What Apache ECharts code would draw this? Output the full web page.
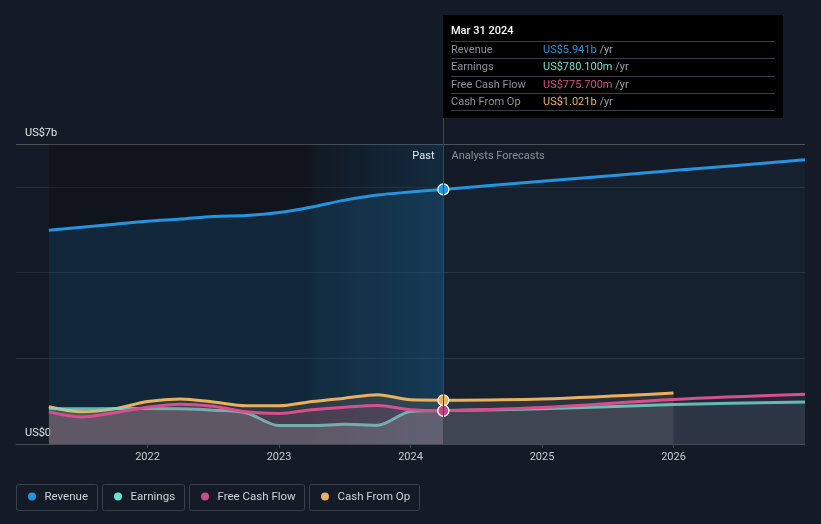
<!DOCTYPE html>
<html><head><meta charset="utf-8">
<script src="https://cdn.jsdelivr.net/npm/echarts@6/dist/echarts.min.js"></script>
<style>html,body{margin:0;padding:0;background:#151b26;}#c{width:821px;height:524px;}</style>
</head><body><div id="c"></div>
<script>
// ---- data (US$ billions) ----
const pastX = [2021.25, 2021.5, 2021.75, 2022.0, 2022.25, 2022.5, 2022.75, 2023.0, 2023.25, 2023.5, 2023.75, 2024.0, 2024.25];
const revenuePast  = [4.99, 5.06, 5.13, 5.20, 5.25, 5.31, 5.33, 5.40, 5.53, 5.69, 5.81, 5.88, 5.941];
const earningsPast = [0.83, 0.82, 0.83, 0.83, 0.82, 0.79, 0.73, 0.43, 0.43, 0.46, 0.44, 0.76, 0.780];
const fcfPast      = [0.75, 0.63, 0.73, 0.86, 0.93, 0.88, 0.75, 0.71, 0.80, 0.86, 0.90, 0.80, 0.776];
const cfoPast      = [0.87, 0.75, 0.82, 0.99, 1.05, 0.98, 0.89, 0.89, 0.99, 1.07, 1.15, 1.03, 1.021];

const forecastX = [2024.25, 2025.0, 2026.0, 2027.0];
const revenueForecast  = [5.941, 6.13, 6.38, 6.63];
const earningsForecast = [0.780, 0.82, 0.92, 0.98];
const fcfForecast      = [0.776, 0.85, 1.04, 1.16];
const cfoForecastX     = [2024.25, 2025.0, 2026.0];
const cfoForecast      = [1.021, 1.05, 1.19];

const yearTicks = [2022, 2023, 2024, 2025, 2026];
const yLabelValues = [0, 7];
const yLabelText = ['US$0', 'US$7b'];

const seriesNames = ['Revenue', 'Earnings', 'Free Cash Flow', 'Cash From Op'];
const tooltipTitle = 'Mar 31 2024';
const tooltipValues = ['US$5.941b', 'US$780.100m', 'US$775.700m', 'US$1.021b'];

// ---- style ----
const FONT = 'Roboto, "Noto Sans", sans-serif';
const C = { rev: '#2394df', earn: '#6fdccd', fcf: '#d6508f', cfo: '#e9b15e' };
const legendDot = ['#2394df', '#66e3d3', '#c94b8b', '#e8b062'];
const valueColors = ['#2394df', '#6ee0d0', '#d84d90', '#e9b15e'];

function pairs(xs, ys) { return xs.map((x, i) => [x, ys[i]]); }
function rgba(hex, a) {
  const n = parseInt(hex.slice(1), 16);
  return `rgba(${n >> 16},${(n >> 8) & 255},${n & 255},${a})`;
}
function lineSeries(name, xs, ys, color, width, areaFill, z, extra) {
  return Object.assign({
    name, type: 'line', data: pairs(xs, ys), smooth: 0.3, symbol: 'none',
    lineStyle: { color, width }, areaStyle: { color: areaFill, origin: 'start' },
    z, silent: true, animation: false
  }, extra || {});
}

const chart = echarts.init(document.getElementById('c'));
const lastI = pastX.length - 1;
const nowX = pastX[lastI];

const option = {
  backgroundColor: '#151b26',
  animation: false,
  textStyle: { fontFamily: FONT },
  grid: { left: 16, right: 16, top: 144, bottom: 80 },
  xAxis: {
    type: 'value', min: 2021, max: 2027, interval: 1,
    axisLine: { lineStyle: { color: '#464c57', width: 1 } },
    axisTick: { show: true, length: 4, customValues: yearTicks, lineStyle: { color: '#464c57' } },
    axisLabel: { customValues: yearTicks, color: '#c9ccd2', fontSize: 11, margin: 8, fontFamily: FONT,
                 formatter: v => String(v) },
    splitLine: { show: false }
  },
  yAxis: {
    type: 'value', min: 0, max: 7, interval: 2,
    axisLine: { show: false }, axisTick: { show: false },
    splitLine: { lineStyle: { color: 'rgba(255,255,255,0.09)' } },
    axisLabel: {
      customValues: yLabelValues, inside: true, margin: 9, verticalAlign: 'bottom',
      padding: [0, 0, 5, 0], color: '#e3e5e9', fontSize: 11, fontFamily: FONT,
      formatter: v => yLabelText[yLabelValues.indexOf(v)]
    }
  },
  series: [
    lineSeries('Revenue', pastX, revenuePast, C.rev, 3, rgba(C.rev, 0.22), 3, {
      markArea: {
        silent: true,
        data: [
          [{ xAxis: pastX[0], itemStyle: { color: 'rgba(0,0,0,0.22)' } }, { xAxis: nowX }],
          [{ xAxis: 2023.25, itemStyle: { color: new echarts.graphic.LinearGradient(0, 0, 1, 0, [
              { offset: 0, color: 'rgba(35,148,223,0.03)' }, { offset: 1, color: 'rgba(35,148,223,0.17)' }]) } },
           { xAxis: nowX }]
        ]
      },
      markLine: {
        silent: true, symbol: 'none', label: { show: false },
        lineStyle: { color: 'rgba(255,255,255,0.16)', type: 'solid', width: 1 },
        data: [{ yAxis: 7 }]
      }
    }),
    lineSeries('RevenueF', forecastX, revenueForecast, C.rev, 3, rgba(C.rev, 0.08), 3),
    lineSeries('Cash From Op', pastX, cfoPast, C.cfo, 3, 'rgba(170,140,100,0.25)', 4),
    lineSeries('CfoF', cfoForecastX, cfoForecast, C.cfo, 3, 'rgba(160,150,135,0.24)', 4),
    lineSeries('Earnings', pastX, earningsPast, C.earn, 3, 'rgba(170,200,190,0.32)', 5, { lineStyle: { color: C.earn, width: 3, opacity: 0.8 } }),
    lineSeries('EarnF', forecastX, earningsForecast, C.earn, 3, 'rgba(140,165,180,0.16)', 5, { lineStyle: { color: C.earn, width: 3, opacity: 0.85 } }),
    lineSeries('Free Cash Flow', pastX, fcfPast, C.fcf, 3, 'rgba(214,80,143,0.24)', 6),
    lineSeries('FcfF', forecastX, fcfForecast, C.fcf, 3, 'rgba(160,120,150,0.13)', 6),
    {
      type: 'scatter', z: 10, symbolSize: 11, silent: true, animation: false,
      data: [
        { value: [nowX, revenuePast[lastI]], itemStyle: { color: C.rev } },
        { value: [nowX, cfoPast[lastI]], itemStyle: { color: C.cfo } },
        { value: [nowX, earningsPast[lastI]], itemStyle: { color: C.earn } },
        { value: [nowX, fcfPast[lastI]], itemStyle: { color: '#c8468a' } }
      ],
      itemStyle: { borderColor: '#ffffff', borderWidth: 1.2, opacity: 1 }
    }
  ]
};
chart.setOption(option);

// ---- overlay: pointer line, tooltip box, past/forecast labels, legend ----
const px = Math.round(chart.convertToPixel({ gridIndex: 0 }, [nowX, 0])[0]) + 0.5;
const yBottom = chart.convertToPixel({ gridIndex: 0 }, [nowX, 0])[1];
const yTop = chart.convertToPixel({ gridIndex: 0 }, [nowX, 7])[1];
const g = [];
g.push({ type: 'line', z: 20, shape: { x1: px, y1: 15, x2: px, y2: yBottom }, style: { stroke: '#3d4552', lineWidth: 1 } });
g.push({ type: 'text', z: 20, x: px - 9, y: yTop + 12, style: { text: 'Past', fill: '#e8eaed', font: '11px ' + FONT, align: 'right', verticalAlign: 'middle' } });
g.push({ type: 'text', z: 20, x: px + 8, y: yTop + 12, style: { text: 'Analysts Forecasts', fill: '#8b919a', font: '11px ' + FONT, align: 'left', verticalAlign: 'middle' } });

// tooltip box
const bx = px - 0.5, by = 15, bw = 340, bh = 103;
g.push({ type: 'rect', z: 30, shape: { x: bx, y: by, width: bw, height: bh }, style: { fill: '#000000' } });
g.push({ type: 'text', z: 31, x: bx + 8, y: by + 16, style: { text: tooltipTitle, fill: '#ffffff', font: '500 11px ' + FONT, verticalAlign: 'middle' } });
const sepY = [41.5, 58.5, 76.5, 93.5, 110.5];
sepY.forEach(y => g.push({ type: 'line', z: 31, shape: { x1: bx + 8, y1: y, x2: bx + 332, y2: y }, style: { stroke: '#3a3f47', lineWidth: 1 } }));
seriesNames.forEach((name, i) => {
  const cy = (sepY[i] + sepY[i + 1]) / 2;
  g.push({ type: 'text', z: 31, x: bx + 8, y: cy, style: { text: name, fill: '#8e939b', font: '11px ' + FONT, verticalAlign: 'middle' } });
  g.push({ type: 'text', z: 31, x: bx + 100, y: cy, style: {
    text: '{v|' + tooltipValues[i] + '}{u| /yr}', verticalAlign: 'middle',
    rich: { v: { fill: valueColors[i], font: '11px ' + FONT }, u: { fill: '#9ba0a8', font: '11px ' + FONT } }
  } });
});

// legend boxes
const legendW = [81, 82, 115, 110];
let lx = 16.5;
seriesNames.forEach((name, i) => {
  g.push({ type: 'rect', z: 20, shape: { x: lx, y: 484.5, width: legendW[i], height: 26, r: 2 }, style: { fill: 'transparent', stroke: '#3a404c', lineWidth: 1 } });
  g.push({ type: 'circle', z: 21, shape: { cx: lx + 15.5, cy: 496.5, r: 4 }, style: { fill: legendDot[i] } });
  g.push({ type: 'text', z: 21, x: lx + 28, y: 497, style: { text: name, fill: '#cfd3d9', font: '11.5px ' + FONT, verticalAlign: 'middle' } });
  lx += legendW[i] + 5;
});
chart.setOption({ graphic: g });
</script>
</body></html>
